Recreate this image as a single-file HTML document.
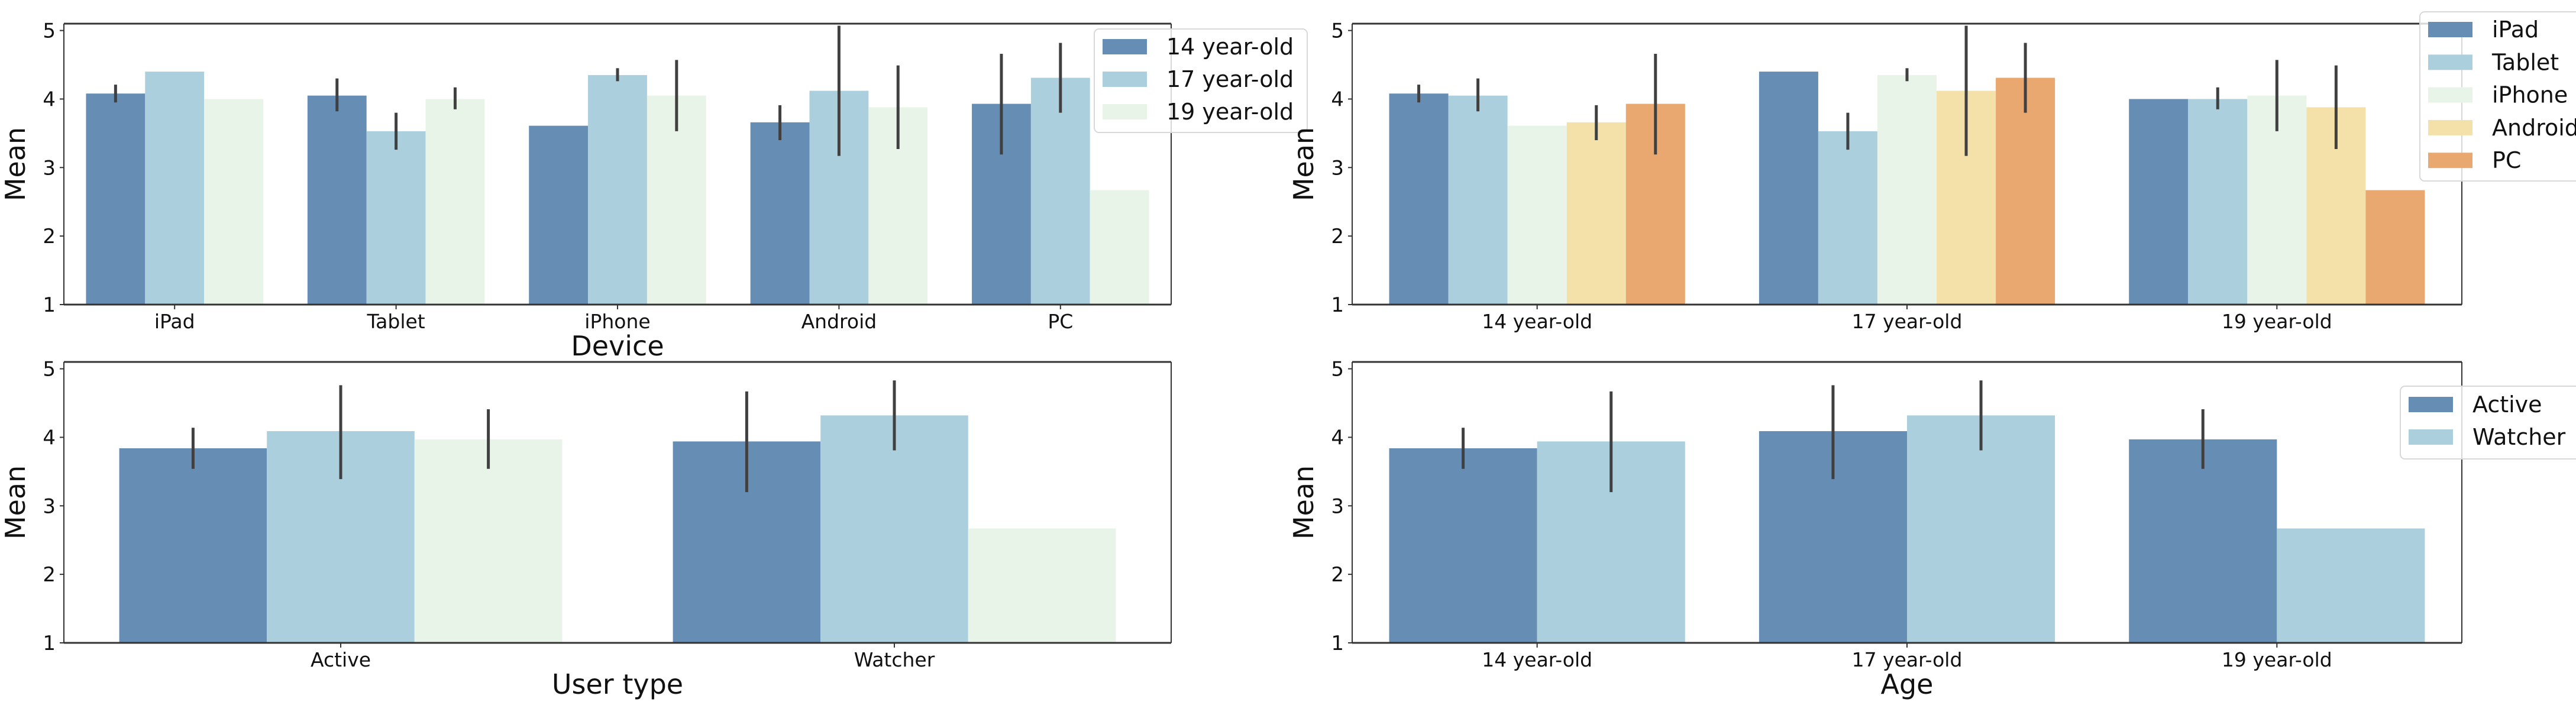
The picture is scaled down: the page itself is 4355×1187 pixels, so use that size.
<!DOCTYPE html>
<html><head><meta charset="utf-8"><style>
html,body{margin:0;padding:0;background:#fff;}
svg{display:block;font-family:"DejaVu Sans","Liberation Sans",sans-serif;}
</style></head><body>
<svg id="fig" width="4355" height="1187" viewBox="0 0 4355 1187" xmlns="http://www.w3.org/2000/svg"></svg>
<script>
const ages = ["14 year-old","17 year-old","19 year-old"];
const devices = ["iPad","Tablet","iPhone","Android","PC"];
const userTypes = ["Active","Watcher"];
// device x age means: rows = age, cols = device
const mean14 = [4.08,4.05,3.61,3.66,3.93];
const mean17 = [4.40,3.53,4.35,4.12,4.31];
const mean19 = [4.00,4.00,4.05,3.88,2.67];
const lo14 = [3.95,3.82,null,3.40,3.19];
const hi14 = [4.21,4.30,null,3.91,4.66];
const lo17 = [null,3.26,4.26,3.17,3.80];
const hi17 = [null,3.80,4.45,5.07,4.82];
const lo19 = [null,3.85,3.53,3.27,null];
const hi19 = [null,4.17,4.57,4.49,null];
// user type x age
const uMean = [[3.84,3.94],[4.09,4.32],[3.97,2.67]];
const uLo = [[3.54,3.20],[3.39,3.81],[3.54,null]];
const uHi = [[4.14,4.67],[4.76,4.83],[4.41,null]];
const yTicks = [1,2,3,4,5];

const ageColors = ["#668db4","#accfde","#e8f4e8"];
const devColors = ["#668db4","#accfde","#e8f4e8","#f3e1a9","#e8a870"];
const NS="http://www.w3.org/2000/svg";
const svg=document.getElementById('fig');
function mk(tag,attrs,parent){const e=document.createElementNS(NS,tag);for(const k in attrs)e.setAttribute(k,attrs[k]);(parent||svg).appendChild(e);return e;}

// series: array of hue series, each {vals, lo, hi} over categories
function panel(name,L,R,T,B,cats,hues,colors,getV,getLo,getHi,xlabel,legend){
  const g=mk('g',{});
  
  
  const yTop=5.1;
  const y=v=>B-(v-1)/(yTop-1)*(B-T);
  const gw=(R-L)/cats.length;
  const bw=0.8*gw/hues.length;
  const x=(ci,hi)=>L+gw*(ci+0.5)-0.4*gw+hi*bw;
  for(let h=0;h<hues.length;h++){
    for(let c=0;c<cats.length;c++){
      const v=getV(h,c);
      const r=mk('rect',{x:x(c,h),y:y(v),width:bw,height:B-y(v),fill:colors[h]},g);
      
      
    }
  }
  for(let h=0;h<hues.length;h++){
    for(let c=0;c<cats.length;c++){
      const lo=getLo(h,c),hi=getHi(h,c);
      if(lo==null)continue;
      const cx=x(c,h)+bw/2;
      const l=mk('line',{x1:cx,x2:cx,y1:y(hi),y2:y(lo),stroke:'#404040','stroke-width':5},g);
      
      
    }
  }
  // frame
  mk('line',{x1:L,x2:R,y1:T,y2:T,stroke:'#333','stroke-width':3},g);
  mk('line',{x1:L,x2:R,y1:B,y2:B,stroke:'#333','stroke-width':3},g);
  mk('line',{x1:L,x2:L,y1:T,y2:B,stroke:'#333','stroke-width':2},g);
  mk('line',{x1:R,x2:R,y1:T,y2:B,stroke:'#333','stroke-width':2},g);
  yTicks.forEach(t=>{
    mk('line',{x1:L-7,x2:L,y1:y(t),y2:y(t),stroke:'#333','stroke-width':2},g);
    const tx=mk('text',{x:L-14,y:y(t)+12,'font-size':34,'text-anchor':'end',fill:'#111'},g);
    tx.textContent=t;
    
    
  });
  cats.forEach((c,i)=>{
    const cx=L+gw*(i+0.5);
    mk('line',{x1:cx,x2:cx,y1:B,y2:B+8,stroke:'#333','stroke-width':2},g);
    const tx=mk('text',{x:cx,y:B+40,'font-size':33,'text-anchor':'middle',fill:'#111'},g);
    tx.textContent=c;
    
    
  });
  const yl=mk('text',{x:0,y:0,'font-size':46,'text-anchor':'middle',fill:'#111',transform:`translate(${L-66},${(T+B)/2}) rotate(-90)`},g);
  yl.textContent='Mean';
  
  
  if(xlabel){
    const xl=mk('text',{x:(L+R)/2,y:B+86,'font-size':46,'text-anchor':'middle',fill:'#111'},g);
    xl.textContent=xlabel;
    
    
  }
  if(legend){
    const lg=mk('g',{},g);
    
    
    mk('rect',{x:legend.x,y:legend.y,width:legend.w,height:legend.h,rx:8,fill:'#fff','fill-opacity':0.8,stroke:'#d8d8d8','stroke-width':2},lg);
    hues.forEach((hn,i)=>{
      const cy=legend.y0+i*legend.step;
      const p=mk('rect',{x:legend.x+14,y:cy-13,width:75,height:26,fill:colors[i]},lg);
      
      
      const t=mk('text',{x:legend.x+122,y:cy+13,'font-size':38,fill:'#111'},lg);
      t.textContent=hn;
      
      
    });
  }
}
const ageMeans=[mean14,mean17,mean19], ageLo=[lo14,lo17,lo19], ageHi=[hi14,hi17,hi19];
panel('device-by-age-chart',108,1980,40,515,devices,ages,ageColors,
  (h,c)=>ageMeans[h][c],(h,c)=>ageLo[h][c],(h,c)=>ageHi[h][c],'Device',
  {x:1850,y:49,w:360,h:175,y0:79,step:55});
panel('age-by-device-chart',2286,4162,40,515,ages,devices,devColors,
  (h,c)=>ageMeans[c][h],(h,c)=>ageLo[c][h],(h,c)=>ageHi[c][h],null,
  {x:4091,y:20,w:280,h:286,y0:50,step:55.3});
panel('usertype-by-age-chart',108,1980,612,1087,userTypes,ages,ageColors,
  (h,c)=>uMean[h][c],(h,c)=>uLo[h][c],(h,c)=>uHi[h][c],'User type',null);
panel('age-by-usertype-chart',2286,4162,612,1087,ages,userTypes,ageColors,
  (h,c)=>uMean[c][h],(h,c)=>uLo[c][h],(h,c)=>uHi[c][h],'Age',
  {x:4058,y:653,w:310,h:123,y0:684,step:55});
</script>
</body></html>
